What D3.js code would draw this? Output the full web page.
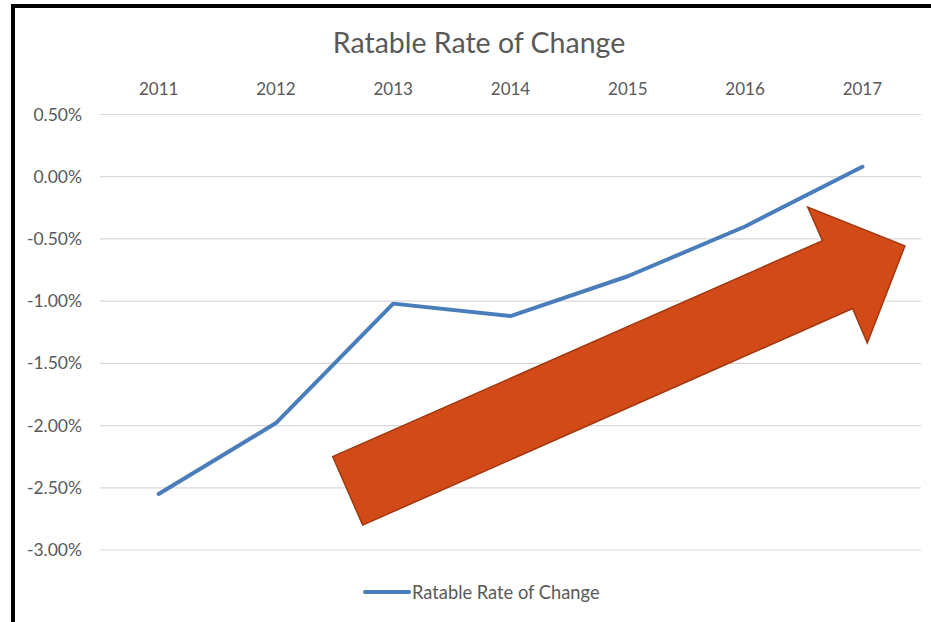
<!DOCTYPE html>
<html>
<head>
<meta charset="utf-8">
<script src="https://cdn.jsdelivr.net/npm/d3@7"></script>
<style>
  body { margin: 0; background: #fff; }
  text { font-family: Lato, "Open Sans", sans-serif; fill: #595959; }
</style>
</head>
<body>
<svg id="chart" width="931" height="622"></svg>
<script>
// chart data
const years = ['2011', '2012', '2013', '2014', '2015', '2016', '2017'];
const rateOfChange = [-2.55, -1.98, -1.02, -1.12, -0.80, -0.40, 0.08];
const yTicks = [0.5, 0, -0.5, -1, -1.5, -2, -2.5, -3];

// the big "upward" arrow, in data units: [category index, percent]
const arrowPts = [
  [1.74, -2.80], [1.484, -2.25], [5.66, -0.514], [5.534, -0.244],
  [6.363, -0.556], [6.042, -1.336], [5.917, -1.059]
];

const svg = d3.select('#chart');
const left = 100;
const right = 921;

// black frame around the chart area
svg.append('rect')
  .attr('x', 13).attr('y', 6)
  .attr('width', 1000).attr('height', 1000)
  .attr('fill', 'none')
  .attr('stroke', '#000')
  .attr('stroke-width', 4);

svg.append('text')
  .attr('x', 479).attr('y', 53)
  .attr('text-anchor', 'middle')
  .style('font-size', '28.5px')
  .text('Ratable Rate of Change');

const x = d3.scaleBand().domain(years).range([left, right]);
const y = d3.scaleLinear().domain([-3, 0.5]).range([550, 114.5]);
const xIdx = (i) => x(years[0]) + x.bandwidth() / 2 + i * x.step();

// gridlines
svg.append('g')
  .selectAll('line')
  .data(yTicks)
  .join('line')
  .attr('x1', left).attr('x2', right)
  .attr('y1', d => y(d)).attr('y2', d => y(d))
  .attr('stroke', '#d9d9d9')
  .attr('stroke-width', 1.2);

// y axis labels (plain hyphen for the minus sign, like the original)
const yAxis = svg.append('g')
  .attr('transform', `translate(${left - 18},0)`)
  .call(d3.axisLeft(y).tickValues(yTicks).tickSize(0).tickPadding(0)
    .tickFormat(d => d.toFixed(2) + '%'));
yAxis.select('.domain').remove();
yAxis.selectAll('text').style('font-size', '17.5px').attr('fill', '#595959');

// category labels on top
const xAxis = svg.append('g')
  .attr('transform', 'translate(0,95)')
  .call(d3.axisTop(x).tickSize(0).tickPadding(0));
xAxis.select('.domain').remove();
xAxis.selectAll('text').style('font-size', '17px').attr('fill', '#595959');

// series line
const line = d3.line()
  .x((d, i) => x(years[i]) + x.bandwidth() / 2)
  .y(d => y(d));

svg.append('path')
  .datum(rateOfChange)
  .attr('d', line)
  .attr('fill', 'none')
  .attr('stroke', '#4a7ebb')
  .attr('stroke-width', 4)
  .attr('stroke-linecap', 'round')
  .attr('stroke-linejoin', 'round');

// arrow annotation
svg.append('path')
  .attr('d', d3.line().x(d => xIdx(d[0])).y(d => y(d[1]))(arrowPts) + 'Z')
  .attr('fill', '#d24a17')
  .attr('stroke', '#a0380f')
  .attr('stroke-width', 1.5)
  .attr('stroke-linejoin', 'miter');

// legend
const legend = svg.append('g').attr('transform', 'translate(365,592)');
legend.append('line')
  .attr('x1', 0).attr('x2', 44)
  .attr('stroke', '#4a7ebb')
  .attr('stroke-width', 4)
  .attr('stroke-linecap', 'round');
legend.append('text')
  .attr('x', 47).attr('y', 6.5)
  .style('font-size', '18.3px')
  .text('Ratable Rate of Change');
</script>
</body>
</html>
